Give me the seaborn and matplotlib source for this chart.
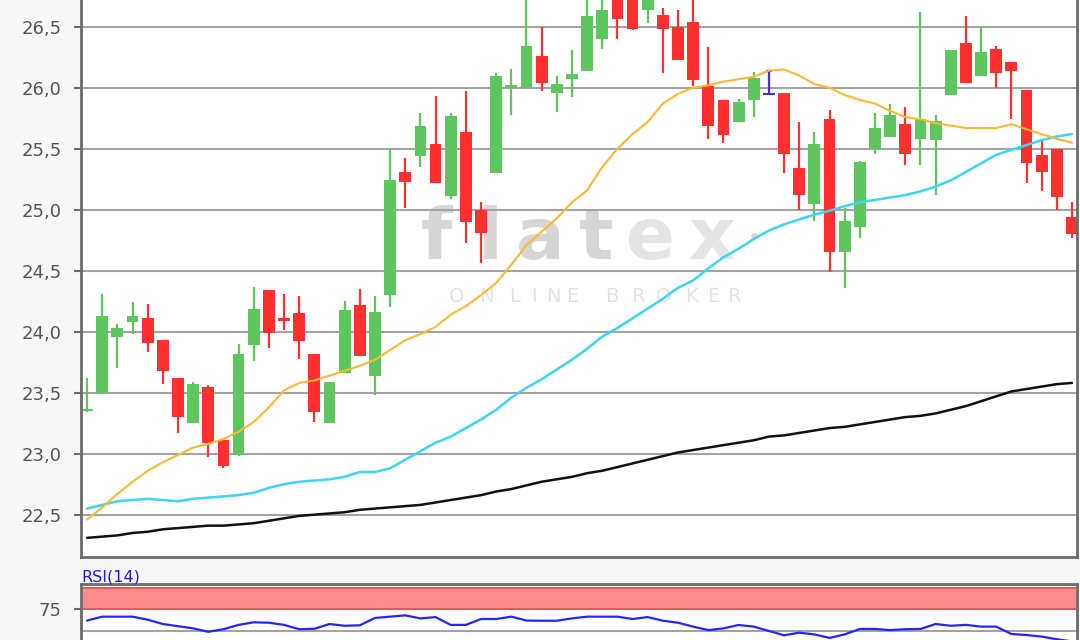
import matplotlib
matplotlib.use("Agg")
import matplotlib.pyplot as plt
import seaborn as sns
import numpy as np
import pandas as pd
from matplotlib.ticker import FuncFormatter, FixedLocator

# ---------------- data ----------------
opens = [23.35, 23.50, 23.96, 24.08, 24.11, 23.93, 23.62, 23.25, 23.55, 23.11,
         22.99, 23.89, 24.34, 24.11, 24.15, 23.82, 23.25, 23.66, 24.22, 23.64,
         24.30, 25.31, 25.44, 25.54, 25.11, 25.64, 25.00, 25.30, 26.00, 26.00,
         26.26, 25.96, 26.07, 26.14, 26.40, 26.75, 26.78, 26.64, 26.60, 26.50,
         26.54, 26.01, 25.90, 25.72, 25.90, 25.94, 25.96, 25.34, 25.05, 25.74,
         24.65, 24.86, 25.50, 25.60, 25.70, 25.58, 25.57, 25.94, 26.37, 26.10,
         26.32, 26.21, 25.98, 25.45, 25.50, 24.94]
highs = [23.62, 24.31, 24.06, 24.24, 24.23, 23.93, 23.62, 23.59, 23.56, 23.12,
         23.90, 24.37, 24.34, 24.31, 24.29, 23.82, 23.59, 24.25, 24.35, 24.29,
         25.50, 25.42, 25.79, 25.93, 25.79, 25.97, 25.06, 26.12, 26.15, 26.75,
         26.50, 26.10, 26.31, 26.75, 26.76, 26.78, 26.80, 26.80, 26.65, 26.64,
         26.75, 26.33, 25.90, 25.91, 26.13, 26.14, 25.96, 25.72, 25.64, 25.82,
         25.01, 25.40, 25.79, 25.87, 25.84, 26.62, 25.78, 26.31, 26.59, 26.49,
         26.34, 26.21, 25.98, 25.58, 25.50, 25.06]
lows = [23.34, 23.50, 23.70, 23.98, 23.83, 23.57, 23.17, 23.25, 22.97, 22.88,
        22.98, 23.76, 23.87, 24.01, 23.78, 23.26, 23.25, 23.66, 23.80, 23.48,
        24.20, 25.01, 25.35, 25.22, 25.09, 24.73, 24.56, 25.30, 25.78, 26.00,
        25.97, 25.80, 25.92, 26.14, 26.32, 26.40, 26.47, 26.53, 26.12, 26.23,
        26.01, 25.58, 25.55, 25.72, 25.76, 25.94, 25.30, 25.00, 24.91, 24.49,
        24.36, 24.77, 25.46, 25.60, 25.37, 25.37, 25.12, 25.94, 26.04, 26.10,
        26.00, 25.74, 25.22, 25.15, 25.00, 24.77]
closes = [23.37, 24.13, 24.03, 24.13, 23.91, 23.68, 23.30, 23.57, 23.09, 22.90,
          23.82, 24.19, 23.99, 24.09, 23.92, 23.34, 23.59, 24.18, 23.80, 24.16,
          25.24, 25.23, 25.69, 25.22, 25.77, 24.90, 24.81, 26.10, 26.02, 26.34,
          26.04, 26.03, 26.11, 26.59, 26.64, 26.56, 26.48, 26.75, 26.48, 26.23,
          26.06, 25.69, 25.61, 25.88, 26.08, 25.94, 25.46, 25.12, 25.54, 24.65,
          24.91, 25.39, 25.67, 25.78, 25.46, 25.74, 25.73, 26.31, 26.04, 26.29,
          26.12, 26.14, 25.38, 25.31, 25.10, 24.80]

ma_orange = [22.46, 22.56, 22.67, 22.77, 22.86, 22.93, 22.99, 23.05, 23.08, 23.12,
             23.18, 23.26, 23.38, 23.52, 23.58, 23.60, 23.64, 23.68, 23.72, 23.77,
             23.85, 23.93, 23.98, 24.04, 24.14, 24.21, 24.30, 24.40, 24.55, 24.71,
             24.82, 24.93, 25.06, 25.16, 25.35, 25.50, 25.62, 25.72, 25.87, 25.95,
             26.00, 26.02, 26.05, 26.07, 26.09, 26.14, 26.15, 26.10, 26.03, 26.00,
             25.94, 25.90, 25.87, 25.81, 25.76, 25.74, 25.71, 25.69, 25.67, 25.67,
             25.67, 25.70, 25.66, 25.62, 25.58, 25.55]
ma_cyan = [22.55, 22.58, 22.61, 22.62, 22.63, 22.62, 22.61, 22.63, 22.64, 22.65,
           22.66, 22.68, 22.72, 22.75, 22.77, 22.78, 22.79, 22.81, 22.85, 22.85,
           22.88, 22.95, 23.02, 23.09, 23.14, 23.21, 23.28, 23.36, 23.46, 23.54,
           23.61, 23.69, 23.77, 23.86, 23.96, 24.03, 24.11, 24.19, 24.27, 24.36,
           24.42, 24.52, 24.61, 24.68, 24.76, 24.83, 24.88, 24.92, 24.96, 24.99,
           25.03, 25.06, 25.08, 25.10, 25.12, 25.15, 25.19, 25.24, 25.31, 25.38,
           25.45, 25.49, 25.53, 25.57, 25.60, 25.62]
ma_black = [22.31, 22.32, 22.33, 22.35, 22.36, 22.38, 22.39, 22.40, 22.41, 22.41,
            22.42, 22.43, 22.45, 22.47, 22.49, 22.50, 22.51, 22.52, 22.54, 22.55,
            22.56, 22.57, 22.58, 22.60, 22.62, 22.64, 22.66, 22.69, 22.71, 22.74,
            22.77, 22.79, 22.81, 22.84, 22.86, 22.89, 22.92, 22.95, 22.98, 23.01,
            23.03, 23.05, 23.07, 23.09, 23.11, 23.14, 23.15, 23.17, 23.19, 23.21,
            23.22, 23.24, 23.26, 23.28, 23.30, 23.31, 23.33, 23.36, 23.39, 23.43,
            23.47, 23.51, 23.53, 23.55, 23.57, 23.58]
rsi_values = [62.0, 66.5, 66.5, 66.5, 63.0, 58.0, 55.5, 53.0, 49.0, 52.0,
              57.0, 60.0, 59.5, 57.0, 52.0, 52.5, 58.0, 56.0, 56.5, 65.0,
              66.5, 68.0, 64.5, 66.0, 57.0, 57.0, 63.8, 63.8, 66.5, 62.0,
              61.8, 61.8, 64.5, 66.5, 66.5, 66.5, 63.8, 66.0, 61.8, 59.5,
              55.0, 51.0, 53.0, 56.9, 55.0, 50.0, 45.0, 48.0, 46.0, 42.0,
              46.0, 52.3, 52.3, 51.0, 52.0, 52.3, 58.0, 56.0, 57.0, 55.0,
              55.0, 46.5, 45.3, 43.5, 40.4, 38.0]

price_ticks = [22.5, 23.0, 23.5, 24.0, 24.5, 25.0, 25.5, 26.0, 26.5]
rsi_ticks = [75]
rsi_zone = (75, 100)
rsi_grid = [50]
rsi_title = "RSI(14)"
watermark_main = "flatex"
watermark_sub = "ONLINE BROKER"

# ---------------- styling ----------------
GREEN = "#5ec65e"
RED = "#ff3030"
DOJI = "#4a2bd8"
SPINE = "#6b6b6b"
GRID = "#a3a3a3"
TICKTXT = "#555555"

sns.set_theme(style="white")
plt.rcParams["font.family"] = ["DejaVu Sans"]

df = pd.DataFrame({"open": opens, "high": highs, "low": lows, "close": closes,
                   "ma_o": ma_orange, "ma_c": ma_cyan, "ma_b": ma_black,
                   "rsi": rsi_values})
df["idx"] = np.arange(len(df))

W, H = 1080, 640
fig = plt.figure(figsize=(W / 100, H / 100), dpi=100, facecolor="#f7f7f7")
ax = fig.add_axes([81 / W, 83 / H, 996 / W, 557 / H])
ax.set_facecolor("white")


def pick(o, c):
    if c > o:
        return GREEN
    if c < o:
        return RED
    return DOJI


cols = [pick(o, c) for o, c in zip(df["open"], df["close"])]
body_lo = np.minimum(df["open"], df["close"])
body_h = np.maximum(np.abs(df["close"] - df["open"]), 0.018)

ax.vlines(df["idx"], df["low"], df["high"], colors=cols, lw=1.6, zorder=2)
ax.bar(df["idx"], body_h, bottom=body_lo, width=0.78, color=cols,
       linewidth=0, zorder=2.1)
flat = df[df["open"] == df["close"]]
ax.hlines(flat["high"], flat["idx"] - 0.18, flat["idx"] + 0.18,
          colors=DOJI, lw=1.6, zorder=2.1)

sns.lineplot(data=df, x="idx", y="ma_b", ax=ax, color="#111111", lw=1.8, zorder=3)
sns.lineplot(data=df, x="idx", y="ma_c", ax=ax, color="#3dd4f5", lw=1.8, zorder=3)
sns.lineplot(data=df, x="idx", y="ma_o", ax=ax, color="#ffb833", lw=1.5, zorder=3)

ax.set_xlim(-0.4, len(df) - 1 + 0.33)
ax.set_ylim(22.153, 26.719)
ax.yaxis.set_major_locator(FixedLocator(price_ticks))
ax.yaxis.set_major_formatter(FuncFormatter(lambda v, p: f"{v:.1f}".replace(".", ",")))
ax.set_xticks([])
ax.set_xlabel("")
ax.set_ylabel("")
ax.set_axisbelow(True)
ax.yaxis.grid(True, color=GRID, lw=1.5)
ax.xaxis.grid(False)
ax.tick_params(axis="y", left=True, length=5, width=1.5, color=SPINE,
               labelcolor=TICKTXT, labelsize=13, pad=9)
for side in ["left", "bottom", "right"]:
    ax.spines[side].set_visible(True)
    ax.spines[side].set_color(SPINE)
    ax.spines[side].set_linewidth(2)
ax.spines["top"].set_visible(False)

# watermark
wm_dark, wm_light = "#d6d6d6", "#e4e4e4"
letter_x = [436, 490, 540, 596, 650, 712]
for ch, xp in zip(watermark_main, letter_x):
    ax.text((xp - 81) / 996, (557 - 259) / 557, ch, transform=ax.transAxes,
            ha="center", va="baseline", fontsize=52, fontweight="bold",
            color=wm_dark if ch in "flat" else wm_light, zorder=0.3)
ax.text((754 - 81) / 996, (557 - 238) / 557, "•", transform=ax.transAxes,
        ha="center", va="center", fontsize=16, color=wm_dark, zorder=0.3)
sub_x = [457, 486, 515, 534, 553, 572, 612, 638, 664, 691, 713, 734]
for ch, xp in zip(watermark_sub.replace(" ", ""), sub_x):
    ax.text((xp - 81) / 996, (557 - 297) / 557, ch, transform=ax.transAxes,
            ha="center", va="center", fontsize=14, color="#e2e2e2", zorder=0.3)

# RSI panel
ax2 = fig.add_axes([81 / W, 0, 996 / W, 56 / H])
ax2.set_facecolor("white")
ax2.axhspan(rsi_zone[0], rsi_zone[1], color="#ff8a8a", lw=0, zorder=1)
for lv in rsi_zone:
    ax2.axhline(lv, color="#e05c5c", lw=1.5, zorder=1.2)
for lv in rsi_grid:
    ax2.axhline(lv, color=GRID, lw=1.5, zorder=1)
sns.lineplot(data=df, x="idx", y="rsi", ax=ax2, color="#2424ff", lw=1.6, zorder=3)
ax2.set_xlim(ax.get_xlim())
ax2.set_ylim(39.55, 104.2)
ax2.yaxis.set_major_locator(FixedLocator(rsi_ticks))
ax2.set_xticks([])
ax2.set_xlabel("")
ax2.set_ylabel("")
ax2.tick_params(axis="y", left=True, length=5, width=1.5, color=SPINE,
                labelcolor=TICKTXT, labelsize=13, pad=9)
for side in ["left", "top", "right"]:
    ax2.spines[side].set_visible(True)
    ax2.spines[side].set_color(SPINE)
    ax2.spines[side].set_linewidth(2)
ax2.spines["bottom"].set_visible(False)
fig.text(81 / W, (640 - 582) / H, rsi_title, color="#1a1aee", fontsize=11.5,
         ha="left", va="baseline")

fig.savefig("out.png", dpi=100, facecolor=fig.get_facecolor())
